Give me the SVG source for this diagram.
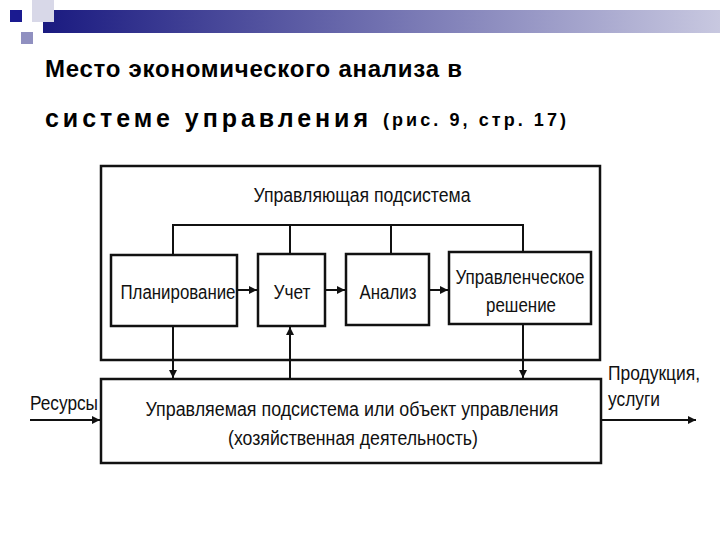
<svg xmlns="http://www.w3.org/2000/svg" width="720" height="540" viewBox="0 0 720 540">
<defs>
<linearGradient id="g" x1="0" x2="1"><stop offset="0" stop-color="#1a1a80"/><stop offset="1" stop-color="#c8c8e0"/></linearGradient>
<marker id="a" viewBox="0 0 10 10" refX="10" refY="5" markerWidth="4" markerHeight="4" orient="auto"><path d="M0,0L10,5L0,10z" fill="#111"/></marker>
</defs>
<style>
.b{fill:#fff;stroke:#111;stroke-width:2.5}
.t{font-family:"Liberation Sans",Arial,sans-serif;font-size:20px;fill:#111;text-anchor:middle}
.l{text-anchor:start}
.h{font-family:"Liberation Sans",Arial,sans-serif;font-weight:bold;fill:#000}
.c{stroke:#111;stroke-width:2;fill:none}
</style>
<rect width="720" height="540" fill="#fff"/>
<rect x="43" y="10" width="677" height="23" fill="url(#g)"/>
<rect x="32" y="0" width="22" height="22" fill="#d8d8e8"/>
<rect x="10" y="10" width="12" height="12" fill="#1a1a90"/>
<rect x="21" y="32" width="12" height="12" fill="#9090c0"/>
<text class="h" x="45" y="77" font-size="24" textLength="417" lengthAdjust="spacing">Место экономического анализа в</text>
<text class="h" x="45" y="127" font-size="25" textLength="323" lengthAdjust="spacing">системе управления</text>
<text class="h" x="383" y="126" font-size="18" textLength="183" lengthAdjust="spacing">(рис. 9, стр. 17)</text>
<g id="control"><rect class="b" x="101" y="166" width="499" height="194"/><text class="t" x="362" y="202" textLength="217" lengthAdjust="spacingAndGlyphs">Управляющая подсистема</text></g>
<g id="plan"><rect class="b" x="111" y="255" width="126" height="71"/><text class="t" x="178" y="299" textLength="115" lengthAdjust="spacingAndGlyphs">Планирование</text></g>
<g id="uchet"><rect class="b" x="258" y="254" width="67" height="72"/><text class="t" x="292" y="299" textLength="37" lengthAdjust="spacingAndGlyphs">Учет</text></g>
<g id="analiz"><rect class="b" x="346" y="254" width="83" height="71"/><text class="t" x="388" y="299" textLength="57" lengthAdjust="spacingAndGlyphs">Анализ</text></g>
<g id="reshenie"><rect class="b" x="449" y="252" width="142" height="72"/><text class="t" x="520" y="284" textLength="129" lengthAdjust="spacingAndGlyphs">Управленческое</text><text class="t" x="521" y="312" textLength="70" lengthAdjust="spacingAndGlyphs">решение</text></g>
<g id="object"><rect class="b" x="101" y="379" width="500" height="84"/><text class="t" x="352" y="416" textLength="413" lengthAdjust="spacingAndGlyphs">Управляемая подсистема или  объект управления</text><text class="t" x="353" y="445" textLength="250" lengthAdjust="spacingAndGlyphs">(хозяйственная деятельность)</text></g>
<g id="res"><text class="t l" x="30" y="410" textLength="68" lengthAdjust="spacingAndGlyphs">Ресурсы</text></g>
<g id="prod"><text class="t l" x="608" y="380" textLength="92" lengthAdjust="spacingAndGlyphs">Продукция,</text><text class="t l" x="608" y="406" textLength="52" lengthAdjust="spacingAndGlyphs">услуги</text></g>
<g id="connectors">
<path class="c" d="M173,255V225H523V252M290,225V254M391,225V254"/>
<path class="c" marker-end="url(#a)" d="M237,290H257"/>
<path class="c" marker-end="url(#a)" d="M325,290H345"/>
<path class="c" marker-end="url(#a)" d="M429,290H448"/>
<path class="c" marker-end="url(#a)" d="M173,326V378"/>
<path class="c" marker-end="url(#a)" d="M523,324V378"/>
<path class="c" marker-end="url(#a)" d="M290,379V327"/>
<path class="c" marker-end="url(#a)" d="M30,420H100"/>
<path class="c" marker-end="url(#a)" d="M601,420H696"/>
</g>
</svg>
